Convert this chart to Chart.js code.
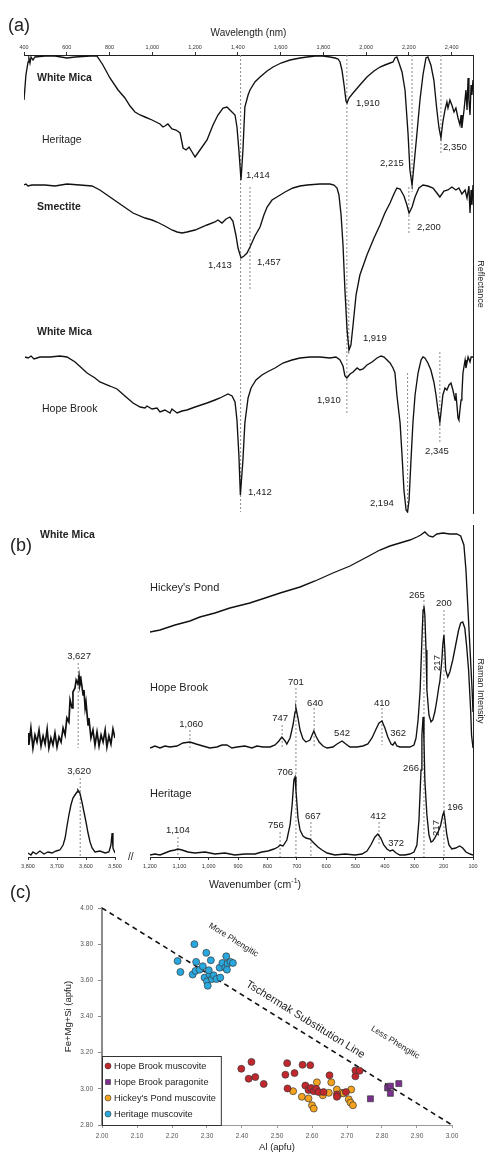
<!DOCTYPE html>
<html>
<head>
<meta charset="utf-8">
<script src="https://cdn.jsdelivr.net/npm/chart.js@4.4.1/dist/chart.umd.min.js"></script>
<style>
  body { margin: 0; background: #fff; overflow: hidden; }
  #page { position: relative; width: 487px; height: 1156px; font-family: "Liberation Sans", Arial, sans-serif; color: #222; }
  #page canvas { position: absolute; }
  .lbl { position: absolute; white-space: nowrap; line-height: 1; }
</style>
</head>
<body>
<div id="page">
  <canvas id="panelA" width="487" height="520" style="left:0;top:0"></canvas>
  <canvas id="panelBInset" width="140" height="385" style="left:0;top:510px"></canvas>
  <canvas id="panelB" width="347" height="385" style="left:140px;top:510px"></canvas>
  <canvas id="panelC" width="487" height="261" style="left:0;top:895px"></canvas>
  <div class="lbl" style="left:8px;top:16px;font-size:18px">(a)</div>
  <div class="lbl" style="left:10px;top:536px;font-size:18px">(b)</div>
  <div class="lbl" style="left:40px;top:529px;font-size:10.5px;font-weight:bold">White Mica</div>
  <div class="lbl" style="left:10px;top:883px;font-size:18px">(c)</div>
  <div class="lbl" style="left:255px;top:877px;font-size:10.5px;transform:translateX(-50%)">Wavenumber (cm<sup style="font-size:7px">-1</sup>)</div>
  <div class="lbl" style="left:128px;top:852px;font-size:10px">//</div>
</div>
<script>
// ---------- (a) SWIR reflectance spectra: [wavelength nm, offset reflectance a.u.] ----------
const wavelengthTicks = [400, 600, 800, 1000, 1200, 1400, 1600, 1800, 2000, 2200, 2400];

const heritageSwir = [
  [400,413],[409,438],[419,451],[423,455],[428,450],[433,456],[442,453],[451,456],[498,457],[545,457],
  [601,455],[639,456],[709,457],[741,457],[769,448],[802,435],[840,423],[872,415],[896,407],[919,401],
  [943,398],[966,396],[999,393],[1036,389],[1050,386],[1059,387],[1073,389],[1092,384],[1111,383],[1130,380],
  [1144,365],[1158,363],[1172,366],[1186,361],[1200,356],[1223,363],[1256,373],[1284,388],[1307,398],[1331,405],
  [1349,406],[1368,402],[1387,398],[1396,386],[1405,363],[1415,333],[1424,363],[1433,406],[1448,418],[1457,423],
  [1480,431],[1504,436],[1537,442],[1565,446],[1602,450],[1644,453],[1691,455],[1724,456],[1761,457],[1798,457],
  [1831,456],[1855,455],[1869,454],[1878,451],[1887,443],[1897,428],[1906,412],[1911,410],[1920,415],[1939,420],
  [1971,428],[2004,436],[2037,442],[2065,446],[2088,448],[2112,450],[2126,451],[2135,455],[2144,456],[2154,450],
  [2168,441],[2182,423],[2196,380],[2205,343],[2215,328],[2224,348],[2238,380],[2252,413],[2266,438],[2280,455],
  [2289,456],[2303,448],[2317,433],[2331,403],[2341,385],[2350,375],[2359,391],[2369,403],[2378,411],[2383,405],
  [2392,413],[2401,408],[2411,401],[2420,405],[2430,395],[2439,388],[2444,398],[2448,385],[2458,403],[2467,423],
  [2472,403],[2477,435],[2481,413],[2486,398],[2491,428],[2495,418],[2500,433]
];

const smectiteSwir = [
  [400,328],[409,329],[419,327],[437,328],[498,328],[545,327],[601,329],[662,328],[718,327],[755,323],
  [802,316],[849,309],[910,300],[966,295],[999,293],[1022,291],[1059,287],[1092,283],[1116,281],[1139,280],
  [1162,281],[1200,283],[1256,288],[1293,291],[1307,293],[1326,290],[1345,294],[1363,296],[1377,292],[1391,278],
  [1401,265],[1415,255],[1429,257],[1443,260],[1457,266],[1480,277],[1504,286],[1522,298],[1537,306],[1560,313],
  [1583,316],[1621,321],[1658,325],[1691,327],[1724,328],[1784,329],[1831,329],[1850,328],[1864,325],[1873,318],
  [1883,298],[1892,268],[1901,223],[1911,183],[1920,163],[1929,168],[1939,188],[1953,218],[1971,238],[2004,258],
  [2037,275],[2065,288],[2088,300],[2112,310],[2130,319],[2144,325],[2159,324],[2177,317],[2191,308],[2201,300],
  [2215,306],[2229,316],[2247,325],[2266,328],[2289,327],[2313,325],[2331,320],[2345,316],[2364,322],[2383,323],
  [2401,326],[2420,323],[2434,325],[2448,319],[2463,323],[2472,315],[2481,327],[2486,300],[2491,323],[2495,308],
  [2500,328]
];

const hopeBrookSwir = [
  [405,156],[419,155],[433,157],[447,154],[475,156],[522,156],[568,157],[601,156],[639,151],[695,140],
  [732,135],[755,131],[802,127],[835,124],[872,117],[910,110],[943,106],[966,105],[975,107],[999,104],
  [1022,105],[1036,101],[1059,103],[1083,100],[1092,104],[1116,100],[1139,102],[1162,103],[1200,106],[1256,110],
  [1293,113],[1317,115],[1335,117],[1354,119],[1373,117],[1387,111],[1396,93],[1405,58],[1412,18],[1424,53],
  [1433,90],[1448,115],[1462,125],[1485,133],[1513,138],[1537,141],[1574,145],[1611,150],[1653,153],[1691,155],
  [1738,156],[1784,156],[1831,155],[1859,156],[1878,153],[1892,147],[1901,137],[1910,135],[1925,139],[1939,141],
  [1958,145],[1971,143],[1986,144],[2004,148],[2028,151],[2051,155],[2070,157],[2084,156],[2098,153],[2112,150],
  [2126,145],[2135,140],[2144,118],[2159,90],[2168,58],[2177,23],[2187,3],[2194,1],[2201,13],[2210,53],
  [2219,90],[2229,118],[2243,140],[2257,153],[2266,156],[2275,155],[2289,150],[2303,143],[2317,131],[2327,118],
  [2336,103],[2345,91],[2350,100],[2359,118],[2369,125],[2378,123],[2388,128],[2397,130],[2406,123],[2416,113],
  [2420,120],[2430,95],[2434,93],[2444,113],[2448,118],[2453,140],[2463,153],[2467,145],[2477,156],[2486,151],
  [2491,156],[2500,156]
];

// dashed peak markers: [wavelength, from, to]
const swirMarkers = [
  [1413,458,1],[1457,326,223],[1910,458,100],[1919,213,158],[2215,458,321],
  [2200,326,278],[2350,458,360],[2194,140,1],[2345,161,71]
];

// ---------- (b) Raman spectra: [wavenumber cm-1, offset intensity a.u.] ----------
const ramanTicks = [1200, 1100, 1000, 900, 800, 700, 600, 500, 400, 300, 200, 100];
const ohTicks = [3800, 3700, 3600, 3500];

const hickeysPondRaman = [
  [1200,225],[1166,227],[1115,232],[1064,236],[1030,240],[979,244],[928,249],[860,254],[808,259],[757,264],
  [689,270],[638,276],[577,284],[519,291],[461,300],[417,307],[383,311],[349,314],[315,317],[291,320],
  [278,322],[264,325],[250,321],[237,320],[223,323],[202,324],[179,323],[155,323],[142,321],[131,312],
  [124,287],[117,247],[110,207],[103,167],[100,145]
];

const hopeBrookRaman = [
  [1200,109],[1183,111],[1166,109],[1149,111],[1132,110],[1108,111],[1088,114],[1064,115],[1043,113],[1020,111],
  [996,109],[972,110],[955,112],[938,112],[921,109],[904,110],[877,111],[853,109],[836,111],[815,110],
  [791,110],[774,112],[761,116],[751,120],[740,116],[734,113],[723,119],[713,132],[706,145],[703,149],
  [696,139],[689,127],[679,118],[669,115],[655,117],[648,122],[642,126],[635,121],[624,115],[611,111],
  [597,109],[577,110],[563,113],[546,116],[533,113],[519,110],[495,110],[475,111],[458,113],[444,119],
  [430,128],[420,134],[410,136],[400,129],[390,120],[379,113],[373,112],[366,115],[359,111],[349,110],
  [332,110],[315,110],[301,112],[294,119],[287,137],[280,167],[274,217],[270,247],[267,251],[264,242],
  [260,207],[257,167],[250,142],[243,135],[237,137],[230,145],[223,157],[216,171],[213,175],[206,197],
  [203,212],[199,222],[196,207],[193,187],[186,180],[179,185],[169,197],[159,212],[149,227],[142,234],
  [135,235],[128,229],[122,212],[115,187],[108,147],[105,122],[100,109]
];

const heritageRaman = [
  [1200,2],[1183,3],[1166,2],[1149,4],[1132,6],[1115,7],[1105,8],[1091,7],[1071,5],[1047,4],
  [1013,5],[979,3],[945,4],[911,2],[877,3],[842,3],[819,5],[798,6],[778,8],[764,10],
  [757,12],[747,11],[734,17],[723,32],[716,52],[710,77],[706,80],[703,67],[696,39],[689,27],
  [679,21],[669,19],[655,18],[642,14],[628,10],[614,7],[597,4],[570,2],[536,3],[502,2],
  [478,3],[461,6],[448,12],[434,20],[424,23],[414,19],[404,12],[393,8],[383,6],[373,7],
  [362,4],[349,2],[332,2],[315,3],[301,5],[291,12],[284,37],[277,87],[274,122],[270,140],
  [267,117],[264,77],[257,42],[250,22],[243,15],[237,16],[230,19],[223,23],[216,27],[210,32],
  [203,42],[199,45],[196,39],[189,22],[182,12],[172,8],[159,9],[145,11],[135,9],[124,5],
  [110,3],[100,2]
];

const hopeBrookOH = [
  [3800,124],[3797,112],[3790,129],[3783,109],[3776,122],[3769,115],[3762,127],[3755,111],[3748,121],[3741,113],
  [3734,128],[3728,109],[3721,119],[3714,112],[3707,124],[3700,110],[3693,120],[3686,115],[3679,129],[3672,122],
  [3666,139],[3659,135],[3655,157],[3648,149],[3645,165],[3638,169],[3634,177],[3628,173],[3624,181],[3621,172],
  [3617,177],[3610,162],[3607,167],[3603,149],[3600,155],[3593,132],[3590,139],[3583,119],[3576,127],[3569,112],
  [3562,125],[3555,111],[3548,122],[3541,115],[3534,127],[3528,110],[3521,121],[3514,113],[3507,128],[3500,119]
];

const heritageOH = [
  [3800,4],[3790,2],[3783,5],[3772,3],[3759,6],[3745,3],[3731,5],[3717,4],[3703,6],[3690,7],
  [3679,12],[3672,19],[3666,30],[3659,42],[3652,52],[3645,59],[3638,62],[3631,65],[3628,67],[3621,64],
  [3614,55],[3607,45],[3600,35],[3593,24],[3586,15],[3579,9],[3569,5],[3552,6],[3534,4],[3521,5],
  [3514,12],[3510,24],[3507,9],[3500,4]
];

const ramanMarkers = [
  [267,257,0],[199,247,0],[703,169,0],[641,149,109],[750,132,109],[1064,127,107],
  [410,149,112],[652,35,0],[757,25,0],[1105,20,2],[420,35,12]
];
const ohMarkers = [[3627,194,109],[3620,79,0]];

// ---------- (c) white mica chemistry: [Al apfu, Fe+Mg+Si apfu] ----------
const compTicksX = [2.0, 2.1, 2.2, 2.3, 2.4, 2.5, 2.6, 2.7, 2.8, 2.9, 3.0];
const compTicksY = [2.8, 3.0, 3.2, 3.4, 3.6, 3.8, 4.0];

const hopeBrookMuscovite = [
  [2.398,3.111],[2.419,3.056],[2.438,3.065],[2.427,3.149],[2.462,3.027],[2.524,3.078],[2.529,3.142],[2.530,3.002],
  [2.550,3.087],[2.573,3.133],[2.595,3.131],[2.581,3.018],[2.590,2.993],[2.597,3.005],[2.605,2.987],[2.612,3.000],
  [2.619,2.982],[2.633,2.982],[2.650,3.075],[2.671,2.969],[2.671,2.956],[2.697,2.982],[2.724,3.069],[2.724,3.102],
  [2.736,3.100]
];
const hopeBrookParagonite = [[2.767,2.945],[2.816,3.005],[2.824,3.015],[2.824,2.975],[2.848,3.029]];
const hickeysPondMuscovite = [
  [2.546,2.987],[2.571,2.956],[2.590,2.947],[2.600,2.909],[2.605,2.891],[2.614,3.036],[2.631,2.964],[2.648,2.978],
  [2.655,3.036],[2.671,2.996],[2.674,2.964],[2.686,2.978],[2.705,2.942],[2.710,2.924],[2.717,2.909],[2.712,2.996],
  [2.690,2.975]
];
const heritageMuscovite = [
  [2.216,3.707],[2.224,3.646],[2.264,3.800],[2.259,3.632],[2.267,3.652],[2.269,3.702],[2.279,3.659],[2.288,3.678],
  [2.293,3.615],[2.298,3.752],[2.300,3.594],[2.302,3.570],[2.307,3.632],[2.311,3.711],[2.314,3.607],[2.319,3.628],
  [2.327,3.607],[2.336,3.670],[2.338,3.615],[2.344,3.696],[2.355,3.733],[2.352,3.670],[2.359,3.693],[2.367,3.702],
  [2.374,3.696],[2.357,3.659],[2.305,3.656]
];
const tschermakLine = [[2.0,4.0],[3.0,2.8]];

// ---------- helpers ----------
const FONT = '"Liberation Sans", Arial, sans-serif';
Chart.defaults.font.family = FONT;
Chart.defaults.color = '#222';
const f = (size, weight) => `${weight || 'normal'} ${size}px ${FONT}`;

const toXY = pairs => pairs.map(([x, y]) => ({ x, y }));
const spectrum = (pairs, width) => ({
  data: toXY(pairs), borderColor: '#111', borderWidth: width || 1.35, pointRadius: 0, tension: 0, fill: false
});
const markerLines = list => list.map(([x, y0, y1]) => ({
  data: [{ x, y: y0 }, { x, y: y1 }], borderColor: '#8a8a8a', borderWidth: 1, borderDash: [2, 2], pointRadius: 0
}));
const comma = v => v.toLocaleString('en-US');

// text drawn in data coordinates
function labelPlugin(items) {
  return {
    id: 'labels',
    afterDatasetsDraw(chart) {
      const { ctx } = chart;
      const xs = chart.scales.x, ys = chart.scales.y;
      ctx.save();
      ctx.textBaseline = 'middle';
      for (const it of items) {
        ctx.save();
        ctx.font = it.font || f(9.5);
        ctx.fillStyle = it.color || '#222';
        ctx.textAlign = it.align || 'left';
        ctx.translate(xs.getPixelForValue(it.x), ys.getPixelForValue(it.y));
        let angle = it.angle || 0;
        if (it.alongLine) {
          const [[x0, y0], [x1, y1]] = tschermakLine;
          angle = Math.atan2(ys.getPixelForValue(y1) - ys.getPixelForValue(y0),
                             xs.getPixelForValue(x1) - xs.getPixelForValue(x0));
        }
        ctx.rotate(angle);
        ctx.fillText(it.text, 0, 0);
        ctx.restore();
      }
      ctx.restore();
    }
  };
}

const base = {
  responsive: false, animation: false, events: [],
  plugins: { legend: { display: false }, tooltip: { enabled: false } }
};

// ---------- panel (a) ----------
const NUM = f(9.5), NAME = f(10.5), BOLD = f(10.5, 'bold');
const swirLabels = [
  { text: 'White Mica', x: 461, y: 435, font: BOLD },
  { text: 'Heritage', x: 484, y: 373, font: NAME },
  { text: '1,910', x: 1953, y: 410, font: NUM },
  { text: '1,414', x: 1438, y: 338, font: NUM },
  { text: '2,215', x: 2065, y: 350, font: NUM },
  { text: '2,350', x: 2360, y: 366, font: NUM },
  { text: 'Smectite', x: 461, y: 306, font: BOLD },
  { text: '2,200', x: 2238, y: 286, font: NUM },
  { text: '1,413', x: 1261, y: 248, font: NUM },
  { text: '1,457', x: 1490, y: 251, font: NUM },
  { text: 'White Mica', x: 461, y: 181, font: BOLD },
  { text: '1,919', x: 1985, y: 175, font: NUM },
  { text: 'Hope Brook', x: 484, y: 104, font: NAME },
  { text: '1,910', x: 1770, y: 113, font: NUM },
  { text: '1,412', x: 1448, y: 21, font: NUM },
  { text: '2,194', x: 2018, y: 10, font: NUM },
  { text: '2,345', x: 2276, y: 62, font: NUM }
];

new Chart(document.getElementById('panelA'), {
  type: 'line',
  data: { datasets: [spectrum(heritageSwir), spectrum(smectiteSwir), spectrum(hopeBrookSwir), ...markerLines(swirMarkers)] },
  options: {
    ...base,
    layout: { padding: { left: 24, right: 0, top: 0, bottom: 7 } },
    scales: {
      x: {
        type: 'linear', position: 'top', min: 400, max: 2500,
        afterFit: s => { s.height = 55; },
        afterBuildTicks: ax => { ax.ticks = wavelengthTicks.map(v => ({ value: v })); },
        ticks: { font: { size: 5.5 }, color: '#333', padding: 1, maxRotation: 0, autoSkip: false, callback: comma },
        grid: { drawOnChartArea: false, tickLength: 3, color: '#333' },
        border: { color: '#222' },
        title: { display: true, text: 'Wavelength (nm)', font: { size: 10 }, color: '#222', padding: { top: 27, bottom: 0 } }
      },
      y: {
        position: 'right', min: 0, max: 458,
        afterFit: s => { s.width = 14; },
        ticks: { display: false }, grid: { display: false },
        border: { color: '#222' },
        title: { display: true, text: 'Reflectance', font: { size: 9 }, color: '#222', padding: { top: 1, bottom: 0 } }
      }
    }
  },
  plugins: [labelPlugin(swirLabels)]
});

// ---------- panel (b) ----------
const ramanLabels = [
  { text: "Hickey's Pond", x: 1200, y: 269, font: f(11) },
  { text: 'Hope Brook', x: 1200, y: 169, font: f(11) },
  { text: 'Heritage', x: 1200, y: 63, font: f(11) },
  { text: '265', x: 291, y: 262, align: 'center' },
  { text: '200', x: 199, y: 254, align: 'center' },
  { text: '217', x: 223, y: 194, align: 'center', angle: -Math.PI / 2 },
  { text: '701', x: 703, y: 175, align: 'center' },
  { text: '640', x: 638, y: 154, align: 'center' },
  { text: '747', x: 757, y: 139, align: 'center' },
  { text: '1,060', x: 1060, y: 133, align: 'center' },
  { text: '542', x: 546, y: 124, align: 'center' },
  { text: '410', x: 410, y: 154, align: 'center' },
  { text: '362', x: 355, y: 124, align: 'center' },
  { text: '706', x: 740, y: 85, align: 'center' },
  { text: '667', x: 645, y: 41, align: 'center' },
  { text: '756', x: 771, y: 32, align: 'center' },
  { text: '1,104', x: 1105, y: 27, align: 'center' },
  { text: '412', x: 423, y: 41, align: 'center' },
  { text: '372', x: 362, y: 14, align: 'center' },
  { text: '266', x: 311, y: 89, align: 'center' },
  { text: '196', x: 161, y: 50, align: 'center' },
  { text: '217', x: 226, y: 29, align: 'center', angle: -Math.PI / 2 }
];
const ohLabels = [
  { text: '3,627', x: 3624, y: 201, align: 'center' },
  { text: '3,620', x: 3624, y: 86, align: 'center' }
];

const ramanX = (min, max, ticks) => ({
  type: 'linear', position: 'bottom', reverse: true, min, max,
  afterFit: s => { s.height = 38; },
  afterBuildTicks: ax => { ax.ticks = ticks.map(v => ({ value: v })); },
  ticks: { font: { size: 5.5 }, color: '#333', padding: 3, maxRotation: 0, autoSkip: false, callback: comma },
  grid: { drawOnChartArea: false, tickLength: 3, color: '#333' },
  border: { color: '#222' }
});

new Chart(document.getElementById('panelB'), {
  type: 'line',
  data: { datasets: [spectrum(hickeysPondRaman), spectrum(hopeBrookRaman), spectrum(heritageRaman), ...markerLines(ramanMarkers)] },
  options: {
    ...base,
    layout: { padding: { left: 10, right: 0, top: 15, bottom: 0 } },
    scales: {
      x: ramanX(100, 1200, ramanTicks),
      y: {
        position: 'right', min: 0, max: 332,
        afterFit: s => { s.width = 14; },
        ticks: { display: false }, grid: { display: false },
        border: { color: '#222' },
        title: { display: true, text: 'Raman Intensity', font: { size: 9 }, color: '#222', padding: { top: 1, bottom: 0 } }
      }
    }
  },
  plugins: [labelPlugin(ramanLabels)]
});

new Chart(document.getElementById('panelBInset'), {
  type: 'line',
  data: { datasets: [spectrum(hopeBrookOH, 1.7), spectrum(heritageOH), ...markerLines(ohMarkers)] },
  options: {
    ...base,
    layout: { padding: { left: 28, right: 25, top: 15, bottom: 0 } },
    scales: {
      x: ramanX(3500, 3800, ohTicks),
      y: { display: false, min: 0, max: 332 }
    }
  },
  plugins: [labelPlugin(ohLabels)]
});

// ---------- panel (c) ----------
const groups = [
  { label: 'Hope Brook muscovite', data: hopeBrookMuscovite, color: '#c1272d', style: 'circle' },
  { label: 'Hope Brook paragonite', data: hopeBrookParagonite, color: '#7b2f8e', style: 'rect' },
  { label: "Hickey's Pond muscovite", data: hickeysPondMuscovite, color: '#f5a31f', style: 'circle' },
  { label: 'Heritage muscovite', data: heritageMuscovite, color: '#29a8df', style: 'circle' }
];

const boxLegend = {
  id: 'boxLegend',
  afterDatasetsDraw(chart) {
    const { ctx, chartArea } = chart;
    ctx.save();
    ctx.font = f(9.2);
    const widest = Math.max(...groups.map(g => ctx.measureText(g.label).width));
    const rowH = 16, w = widest + 17, h = groups.length * rowH + 5;
    const left = chartArea.left, top = chartArea.bottom - h;
    ctx.fillStyle = '#fff';
    ctx.fillRect(left, top, w, h);
    ctx.strokeStyle = '#333';
    ctx.lineWidth = 1;
    ctx.strokeRect(left + 0.5, top + 0.5, w, h);
    groups.forEach((g, i) => {
      const cy = top + 10 + i * rowH;
      ctx.fillStyle = g.color;
      ctx.strokeStyle = '#333';
      ctx.lineWidth = 0.6;
      ctx.beginPath();
      if (g.style === 'rect') ctx.rect(left + 3.5, cy - 2.5, 5, 5);
      else ctx.arc(left + 6, cy, 3, 0, Math.PI * 2);
      ctx.fill();
      ctx.stroke();
      ctx.fillStyle = '#222';
      ctx.textAlign = 'left';
      ctx.textBaseline = 'middle';
      ctx.fillText(g.label, left + 12, cy);
    });
    ctx.restore();
  }
};

const compLabels = [
  { text: 'More Phengitic', x: 2.376, y: 3.823, align: 'center', font: f(8.5), alongLine: true },
  { text: 'Tschermak Substitution Line', x: 2.581, y: 3.383, align: 'center', font: f(11), alongLine: true },
  { text: 'Less Phengitic', x: 2.838, y: 3.256, align: 'center', font: f(8.5), alongLine: true }
];

new Chart(document.getElementById('panelC'), {
  type: 'scatter',
  data: {
    datasets: [
      ...groups.map(g => ({
        label: g.label, data: toXY(g.data), pointStyle: g.style,
        backgroundColor: g.color, borderColor: '#3a3a3a', borderWidth: 0.7,
        pointRadius: g.style === 'rect' ? 4.2 : 3.5
      })),
      { type: 'line', data: toXY(tschermakLine), borderColor: '#111', borderWidth: 1.6, borderDash: [5, 4], pointRadius: 0 }
    ]
  },
  options: {
    ...base,
    layout: { padding: { left: 0, right: 35, top: 13, bottom: 0 } },
    scales: {
      x: {
        type: 'linear', min: 2.0, max: 3.0,
        afterFit: s => { s.height = 31; },
        afterBuildTicks: ax => { ax.ticks = compTicksX.map(v => ({ value: v })); },
        ticks: { font: { size: 6.5 }, color: '#555', padding: 4, maxRotation: 0, autoSkip: false, callback: v => v.toFixed(2) },
        grid: { drawOnChartArea: false, tickLength: 3, color: '#999' },
        border: { color: '#999', width: 1 },
        title: { display: true, text: 'Al (apfu)', font: { size: 9.5 }, color: '#222', padding: { top: 0, bottom: 3 } }
      },
      y: {
        type: 'linear', min: 2.8, max: 4.0,
        afterFit: s => { s.width = 102; },
        afterBuildTicks: ax => { ax.ticks = compTicksY.map(v => ({ value: v })); },
        ticks: { font: { size: 6.5 }, color: '#555', padding: 5, callback: v => v.toFixed(2) },
        grid: { drawOnChartArea: false, tickLength: 4, color: '#888' },
        border: { color: '#8c8c8c', width: 2 },
        title: { display: true, text: 'Fe+Mg+Si (apfu)', font: { size: 9.5 }, color: '#222', padding: { top: 63, bottom: 0 } }
      }
    }
  },
  plugins: [labelPlugin(compLabels), boxLegend]
});
</script>
</body>
</html>
